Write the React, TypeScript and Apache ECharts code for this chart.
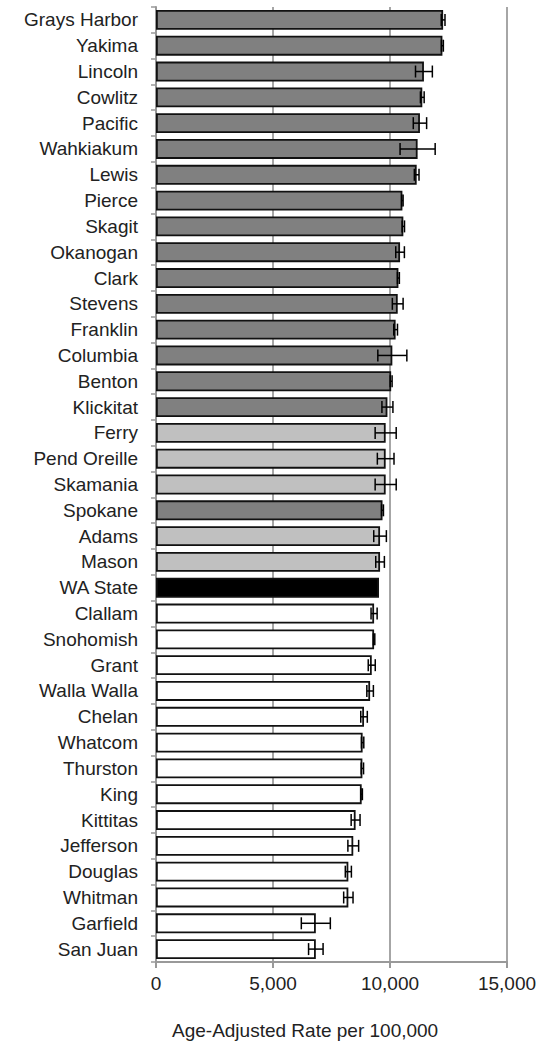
import React, { useEffect, useRef } from "react";
import * as echarts from "echarts";

const counties = [
  "Grays Harbor", "Yakima", "Lincoln", "Cowlitz", "Pacific", "Wahkiakum", "Lewis",
  "Pierce", "Skagit", "Okanogan", "Clark", "Stevens", "Franklin", "Columbia", "Benton",
  "Klickitat", "Ferry", "Pend Oreille", "Skamania", "Spokane", "Adams", "Mason",
  "WA State", "Clallam", "Snohomish", "Grant", "Walla Walla", "Chelan", "Whatcom",
  "Thurston", "King", "Kittitas", "Jefferson", "Douglas", "Whitman", "Garfield", "San Juan",
];

const rates = [
  12270, 12240, 11450, 11380, 11280, 11180, 11140,
  10530, 10570, 10430, 10360, 10330, 10240, 10100, 10050,
  9890, 9815, 9815, 9815, 9680, 9575, 9575,
  9530, 9320, 9320, 9220, 9150, 8890, 8830,
  8820, 8790, 8530, 8430, 8220, 8220, 6830, 6830,
];

const margins = [
  80, 40, 360, 80, 285, 750, 100,
  30, 50, 185, 40, 230, 80, 620, 40,
  235, 450, 356, 450, 40, 270, 185,
  0, 130, 30, 150, 140, 140, 50,
  50, 30, 190, 230, 130, 200, 620, 310,
];

// comparison with state: H = significantly higher, S = not significantly different, W = state, L = lower
const groups = [
  "H", "H", "H", "H", "H", "H", "H",
  "H", "H", "H", "H", "H", "H", "H", "H",
  "H", "S", "S", "S", "H", "S", "S",
  "W", "L", "L", "L", "L", "L", "L",
  "L", "L", "L", "L", "L", "L", "L", "L",
];

const groupColors: Record<string, string> = {
  H: "#808080",
  S: "#c0c0c0",
  W: "#000000",
  L: "#ffffff",
};

const xTicks = [0, 5000, 10000, 15000];
const xTitle = "Age-Adjusted Rate per 100,000";

export default function App() {
  const ref = useRef<HTMLDivElement>(null);
  useEffect(() => {
    if (!ref.current) return;
    const chart = echarts.init(ref.current, null, { renderer: "svg" });
    const font = "'Liberation Sans', Arial, sans-serif";
    const errData = counties
      .map((c, i) => [i, rates[i] - margins[i], rates[i] + margins[i]])
      .filter((d, i) => margins[i] > 0);
    chart.setOption({
      animation: false,
      grid: { left: 156, right: 35, top: 7, bottom: 85, containLabel: false },
      xAxis: {
        type: "value",
        min: xTicks[0],
        max: xTicks[xTicks.length - 1],
        interval: 5000,
        axisLine: { show: true, lineStyle: { color: "#999", width: 2 } },
        axisTick: { show: true, length: 6, lineStyle: { color: "#999", width: 2 } },
        splitLine: { show: true, lineStyle: { color: "#a6a6a6", width: 2 } },
        axisLabel: {
          margin: 12,
          color: "#222",
          fontSize: 19,
          fontFamily: font,
          formatter: (v: number) => v.toLocaleString("en-US"),
        },
      },
      yAxis: {
        type: "category",
        data: counties,
        inverse: true,
        axisLine: { show: true, lineStyle: { color: "#999", width: 2 } },
        axisTick: { show: true, length: 5, interval: 0, lineStyle: { color: "#999", width: 1.5 } },
        axisLabel: {
          interval: 0,
          margin: 18,
          color: "#222",
          fontSize: 19,
          fontFamily: font,
        },
      },
      series: [
        {
          type: "bar",
          barCategoryGap: "23%",
          data: rates.map((v, i) => ({
            value: v,
            itemStyle: {
              color: groupColors[groups[i]],
              borderColor: "#111",
              borderWidth: 1.8,
            },
          })),
        },
        {
          type: "custom",
          z: 10,
          data: errData,
          renderItem: (params: any, api: any) => {
            const idx = api.value(0);
            const lo = api.coord([api.value(1), idx]);
            const hi = api.coord([api.value(2), idx]);
            const h = 6;
            const style = { stroke: "#000", lineWidth: 1.5 };
            return {
              type: "group",
              children: [
                { type: "line", shape: { x1: lo[0], y1: lo[1], x2: hi[0], y2: hi[1] }, style },
                { type: "line", shape: { x1: lo[0], y1: lo[1] - h, x2: lo[0], y2: lo[1] + h }, style },
                { type: "line", shape: { x1: hi[0], y1: hi[1] - h, x2: hi[0], y2: hi[1] + h }, style },
              ],
            };
          },
        },
      ],
      graphic: [
        {
          type: "text",
          left: 172,
          top: 1021,
          style: { text: xTitle, fontSize: 19, fontFamily: font, fill: "#222" },
        },
      ],
    });
    return () => chart.dispose();
  }, []);
  return <div ref={ref} style={{ width: 542, height: 1047, position: "absolute", left: 0, top: 0 }} />;
}
